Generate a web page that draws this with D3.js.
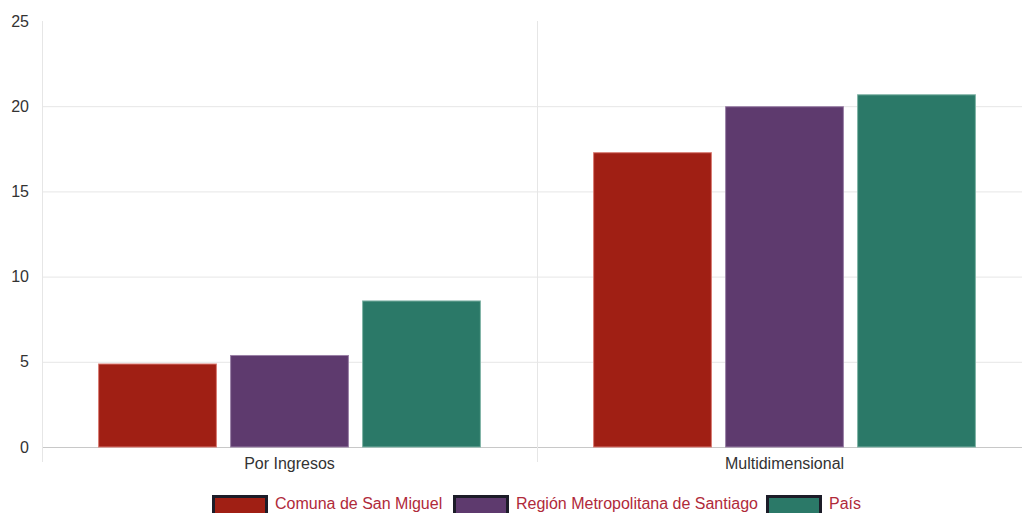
<!DOCTYPE html>
<html>
<head>
<meta charset="utf-8">
<script src="https://cdn.jsdelivr.net/npm/d3@7"></script>
<style>
  html, body { margin: 0; padding: 0; background: #fff; overflow: hidden; }
  svg { display: block; font-family: Arial, "Liberation Sans", sans-serif; }
</style>
</head>
<body>
<svg id="chart" width="1022" height="513"></svg>
<script>
// Pobreza por ingresos y multidimensional (%)
const categories = ["Por Ingresos", "Multidimensional"];
const seriesNames = ["Comuna de San Miguel", "Región Metropolitana de Santiago", "País"];
const sanMiguel = [4.9, 17.3];
const regionMetropolitana = [5.4, 20.0];
const pais = [8.6, 20.7];
const yTicks = [0, 5, 10, 15, 20, 25];
const colors = ["#a01f14", "#5e3a6e", "#2b7968"];
const borders = ["#d97a72", "#9a80a6", "#7fb3a6"];

const seriesValues = [sanMiguel, regionMetropolitana, pais];

const svg = d3.select("#chart");
const plotLeft = 42, plotRight = 1032, plotTop = 21, plotBottom = 447;
const fontFamily = "Arial, 'Liberation Sans', sans-serif";

const x = d3.scaleBand().domain(categories).range([plotLeft, plotRight]);
const xInner = d3.scaleBand().domain(seriesNames)
  .range([x.bandwidth() * 0.1, x.bandwidth() * 0.9])
  .paddingInner(0.1).paddingOuter(0.05);
const y = d3.scaleLinear().domain([0, 25]).range([plotBottom, plotTop]);

// horizontal gridlines (none along the top edge)
svg.append("g").selectAll("line").data(yTicks.filter(t => t < 25)).join("line")
  .attr("x1", plotLeft).attr("x2", plotRight)
  .attr("y1", d => y(d) + 0.5).attr("y2", d => y(d) + 0.5)
  .attr("stroke", d => d === 0 ? "#c8c8c8" : "#e6e6e6").attr("stroke-width", 1);

// vertical gridlines at category boundaries
const bounds = [plotLeft, plotLeft + x.step()];
svg.append("g").selectAll("line").data(bounds).join("line")
  .attr("x1", d => d + 0.5).attr("x2", d => d + 0.5)
  .attr("y1", plotTop).attr("y2", plotBottom + 15)
  .attr("stroke", "#e6e6e6").attr("stroke-width", 1);

// y tick labels
const yAxis = d3.axisLeft(y).tickValues(yTicks).tickSize(0).tickPadding(13);
svg.append("g").attr("transform", `translate(${plotLeft},0)`).call(yAxis)
  .call(g => g.select(".domain").remove())
  .call(g => g.selectAll("text").attr("font-size", 16).attr("fill", "#333")
    .attr("font-family", fontFamily));

// x tick labels
const xAxis = d3.axisBottom(x).tickSize(0).tickPadding(11);
svg.append("g").attr("transform", `translate(0,${plotBottom})`).call(xAxis)
  .call(g => g.select(".domain").remove())
  .call(g => g.selectAll("text").attr("font-size", 16).attr("fill", "#333")
    .attr("font-family", fontFamily));

// bars
const groups = svg.append("g").selectAll("g").data(categories).join("g")
  .attr("transform", d => `translate(${x(d)},0)`);
groups.selectAll("rect")
  .data((c, ci) => seriesNames.map((s, si) => ({ s, si, v: seriesValues[si][ci] })))
  .join("rect")
  .attr("x", d => xInner(d.s) + 0.5)
  .attr("width", xInner.bandwidth() - 1)
  .attr("y", d => y(d.v) + 0.5)
  .attr("height", d => plotBottom - y(d.v) - 0.5)
  .attr("fill", d => colors[d.si])
  .attr("stroke", d => borders[d.si])
  .attr("stroke-width", 1);

// legend
const legendX = [212, 453, 766];
const legend = svg.append("g").selectAll("g").data(seriesNames).join("g")
  .attr("transform", (d, i) => `translate(${legendX[i]},495)`);
legend.append("rect")
  .attr("x", 1.5).attr("y", 1.5).attr("width", 53).attr("height", 20)
  .attr("fill", (d, i) => colors[i]).attr("stroke", "#1c1c28").attr("stroke-width", 3);
legend.append("text")
  .attr("x", 63).attr("y", 14)
  .attr("font-size", 16).attr("fill", "#b02a3a")
  .attr("font-family", fontFamily)
  .text(d => d);
</script>
</body>
</html>
